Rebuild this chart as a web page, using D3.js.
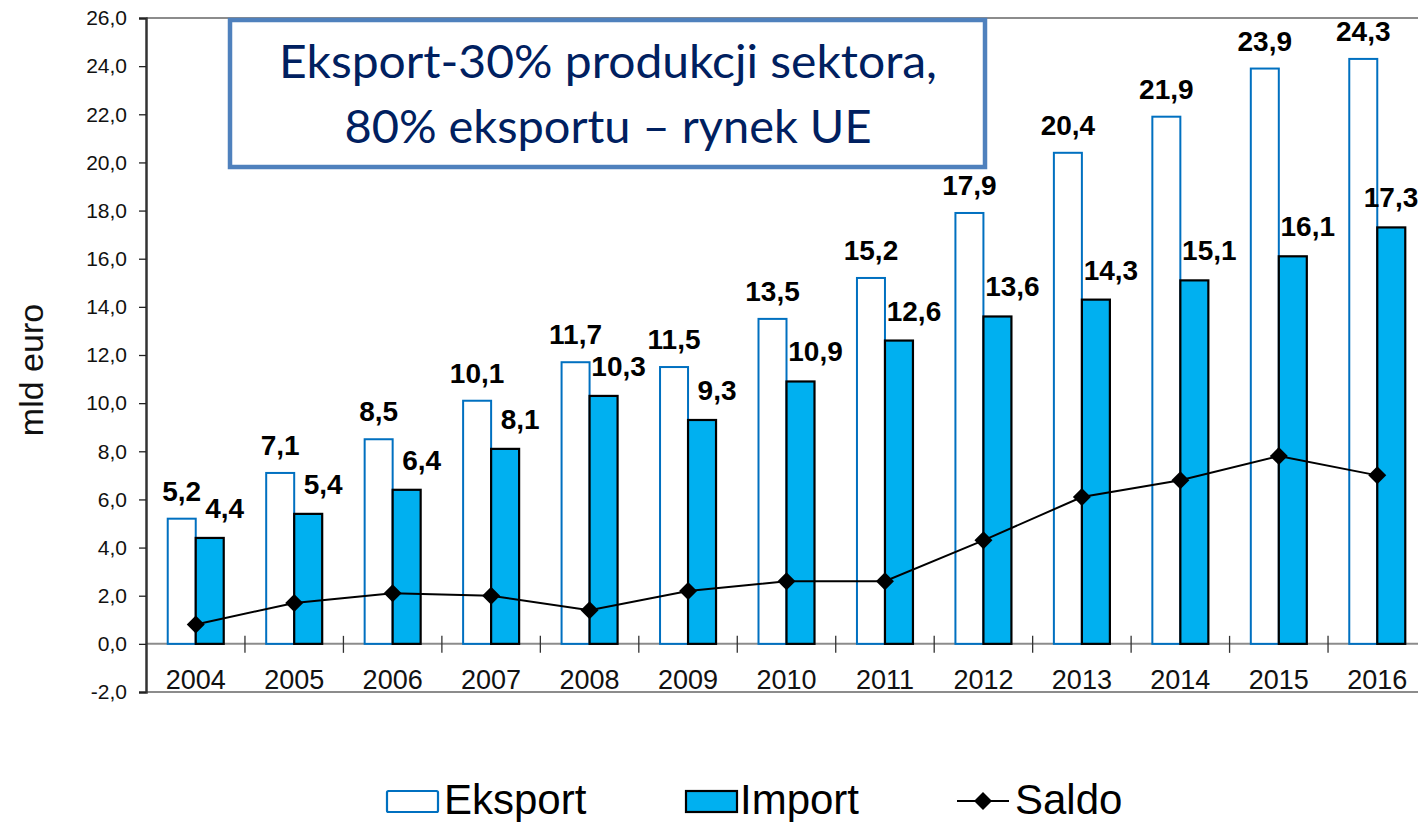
<!DOCTYPE html>
<html>
<head>
<meta charset="utf-8">
<script src="https://cdn.jsdelivr.net/npm/d3@7"></script>
<style>
  body { margin: 0; background: #fff; }
</style>
</head>
<body>
<svg id="chart"></svg>
<script>
const years = ['2004','2005','2006','2007','2008','2009','2010','2011','2012','2013','2014','2015','2016'];
const eksport = [5.2, 7.1, 8.5, 10.1, 11.7, 11.5, 13.5, 15.2, 17.9, 20.4, 21.9, 23.9, 24.3];
const imports = [4.4, 5.4, 6.4, 8.1, 10.3, 9.3, 10.9, 12.6, 13.6, 14.3, 15.1, 16.1, 17.3];
const saldo = [0.8, 1.7, 2.1, 2.0, 1.4, 2.2, 2.6, 2.6, 4.3, 6.1, 6.8, 7.8, 7.0];
const yTicks = [-2, 0, 2, 4, 6, 8, 10, 12, 14, 16, 18, 20, 22, 24, 26];
const titleLines = ['Eksport-30% produkcji sektora,', '80% eksportu \u2013 rynek UE'];

const w = 1418, h = 822;
const fmt = d => d.toFixed(1).replace('.', ',');
const arial = 'Arial, "Liberation Sans", sans-serif';

const svg = d3.select('#chart').attr('width', w).attr('height', h)
  .style('font-family', arial);
svg.append('rect').attr('width', w).attr('height', h).attr('fill', '#fff');

const x = d3.scaleBand().domain(years).range([146.5, 1426.5]).padding(0);
const y = d3.scaleLinear().domain([-2, 26]).range([692, 18]);
const barW = 28;
const cx = yr => x(yr) + x.bandwidth() / 2;

// frame lines
[26, -2, 0].forEach(v => {
  svg.append('line')
    .attr('x1', 146).attr('x2', w)
    .attr('y1', y(v)).attr('y2', y(v))
    .attr('stroke', '#8c8c8c').attr('stroke-width', 2);
});

// category ticks between years
svg.selectAll('.xtick')
  .data(years.slice(1))
  .join('line')
  .attr('x1', d => x(d)).attr('x2', d => x(d))
  .attr('y1', y(0) - 8).attr('y2', y(0) + 9)
  .attr('stroke', '#333').attr('stroke-width', 1.3);

// y axis
const yAxis = d3.axisLeft(y).tickValues(yTicks).tickSize(7).tickPadding(12).tickFormat(fmt);
const gy = svg.append('g').attr('transform', 'translate(146,0)').call(yAxis);
gy.select('.domain').attr('stroke', '#333').attr('stroke-width', 2.5);
gy.selectAll('.tick line').attr('stroke', '#222').attr('stroke-width', 1.3);
gy.selectAll('.tick text').attr('fill', '#111')
  .style('font-size', '21px').style('font-family', arial);

// year labels
svg.selectAll('.ylab')
  .data(years)
  .join('text')
  .attr('x', d => cx(d)).attr('y', 689)
  .attr('text-anchor', 'middle')
  .attr('font-size', 27).attr('fill', '#111')
  .text(d => d);

// axis title
svg.append('text')
  .attr('transform', 'translate(43,370) rotate(-90)')
  .attr('text-anchor', 'middle')
  .attr('font-size', 34).attr('fill', '#111')
  .text('mld euro');

// bars
svg.selectAll('.eks')
  .data(years)
  .join('rect')
  .attr('x', d => cx(d) - barW)
  .attr('y', (d, i) => y(eksport[i]))
  .attr('width', barW)
  .attr('height', (d, i) => y(0) - y(eksport[i]))
  .attr('fill', '#fff').attr('stroke', '#0070C0').attr('stroke-width', 2);

svg.selectAll('.imp')
  .data(years)
  .join('rect')
  .attr('x', d => cx(d))
  .attr('y', (d, i) => y(imports[i]))
  .attr('width', barW)
  .attr('height', (d, i) => y(0) - y(imports[i]))
  .attr('fill', '#00B0F0').attr('stroke', '#000').attr('stroke-width', 2.2);

// saldo line
const line = d3.line().x((d, i) => cx(years[i])).y(d => y(d));
svg.append('path')
  .datum(saldo)
  .attr('d', line)
  .attr('fill', 'none').attr('stroke', '#000').attr('stroke-width', 2);

const diamond = 'M0,-9L9,0L0,9L-9,0Z';
svg.selectAll('.mk')
  .data(saldo)
  .join('path')
  .attr('d', diamond)
  .attr('transform', (d, i) => `translate(${cx(years[i])},${y(d)})`)
  .attr('fill', '#000');

// value labels
svg.selectAll('.elab')
  .data(eksport)
  .join('text')
  .attr('x', (d, i) => cx(years[i]) - barW / 2)
  .attr('y', d => y(d) - 18)
  .attr('text-anchor', 'middle')
  .attr('font-size', 28).attr('font-weight', 'bold').attr('fill', '#000')
  .text(fmt);

svg.selectAll('.ilab')
  .data(imports)
  .join('text')
  .attr('x', (d, i) => Math.min(cx(years[i]) + barW / 2 + 15, w - 27))
  .attr('y', d => y(d) - 20)
  .attr('text-anchor', 'middle')
  .attr('font-size', 28).attr('font-weight', 'bold').attr('fill', '#000')
  .text(fmt);

// title box
svg.append('rect')
  .attr('x', 230).attr('y', 20).attr('width', 755).attr('height', 147)
  .attr('fill', '#fff').attr('stroke', '#4F81BD').attr('stroke-width', 4.5);

svg.selectAll('.title')
  .data(titleLines)
  .join('text')
  .attr('x', 608)
  .attr('y', (d, i) => 78 + i * 65)
  .attr('text-anchor', 'middle')
  .style('font-family', 'Lato, "Open Sans", sans-serif')
  .attr('font-size', 47)
  .attr('fill', '#002060')
  .attr('textLength', (d, i) => i === 0 ? 658 : 527)
  .attr('lengthAdjust', 'spacingAndGlyphs')
  .text(d => d);

// legend
const leg = svg.append('g');
leg.append('rect').attr('x', 387).attr('y', 791).attr('width', 51).attr('height', 21)
  .attr('fill', '#fff').attr('stroke', '#0070C0').attr('stroke-width', 2.2).attr('rx', 1.5);
leg.append('text').attr('x', 444).attr('y', 814).attr('font-size', 42).attr('fill', '#000').text('Eksport');

leg.append('rect').attr('x', 686).attr('y', 791).attr('width', 51).attr('height', 21)
  .attr('fill', '#00B0F0').attr('stroke', '#000').attr('stroke-width', 2.2);
leg.append('text').attr('x', 740).attr('y', 814).attr('font-size', 42).attr('fill', '#000').text('Import');

leg.append('line').attr('x1', 957).attr('x2', 1009).attr('y1', 801).attr('y2', 801)
  .attr('stroke', '#000').attr('stroke-width', 2);
leg.append('path').attr('d', diamond).attr('transform', 'translate(983,801)').attr('fill', '#000');
leg.append('text').attr('x', 1015).attr('y', 814).attr('font-size', 42).attr('fill', '#000').text('Saldo');
</script>
</body>
</html>
